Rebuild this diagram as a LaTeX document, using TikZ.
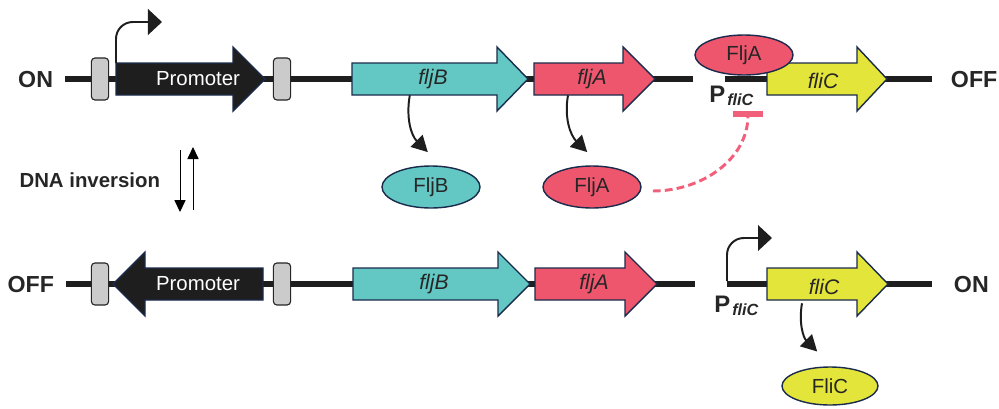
\documentclass[tikz,border=0pt]{standalone}
\usepackage{fontspec}
\setmainfont{Liberation Sans}
\usetikzlibrary{arrows.meta, positioning, shapes.geometric}
\definecolor{flagteal}{HTML}{63C7C4}
\definecolor{flagred}{HTML}{EE566E}
\definecolor{flagyellow}{HTML}{E4E53A}
\definecolor{edgenavy}{HTML}{1A2B4C}
\definecolor{dnablack}{HTML}{1E1E1E}
\definecolor{boxgray}{HTML}{CBCBCB}
\definecolor{repressred}{HTML}{F0607A}

% block arrow for a gene: [style] {start x}{head x}{tip x}{y}
\newcommand{\genearrow}[5][]{%
  \draw[genebody,#1] (#2,#5+16) -- (#3,#5+16) -- (#3,#5+32) -- (#4,#5)
    -- (#3,#5-32) -- (#3,#5-16) -- (#2,#5-16) -- cycle;}

\tikzset{
  genebody/.style={draw=edgenavy, line width=1pt, line join=miter},
  genename/.style={font=\fontsize{15}{17}\selectfont\itshape, text=black!85,
    minimum height=0.8cm, inner sep=0pt},
  protein/.style={ellipse, draw=edgenavy, line width=1pt, inner sep=0pt,
    minimum width=2.45cm, minimum height=1.05cm,
    font=\fontsize{14.5}{17}\selectfont, text=black!85},
  invrepeat/.style={rectangle, rounded corners=2.5pt, fill=boxgray,
    draw=black!85, line width=0.8pt, inner sep=0pt,
    minimum width=0.43cm, minimum height=1.05cm},
  statelabel/.style={font=\fontsize{16.5}{19}\selectfont\bfseries, text=black!85},
}

\begin{document}
\begin{tikzpicture}[x=0.025cm, y=0.025cm,
  dna/.style={line width=4.6pt, draw=dnablack},
  tss/.style={line width=1.4pt, draw=dnablack, rounded corners=0.42cm,
    -{Triangle[length=3.5mm, width=6.4mm]}},
  express/.style={line width=1.4pt, draw=dnablack,
    -{Triangle[length=4mm, width=4.2mm]}},
  flip/.style={line width=0.7pt, -{Triangle[length=3mm, width=2.8mm]}},
  repress/.style={line width=2.1pt, draw=repressred, dash pattern=on 5.5pt off 3pt,
    -{Bar[width=7.3mm, line width=4pt]}},
  pfli/.style={font=\fontsize{17}{19}\selectfont\bfseries, text=black!85,
    inner sep=0pt}]
\useasboundingbox (0,0) rectangle (999,-408);

% ---- upper row: ON ----
\node[statelabel, anchor=east] (on1) at (58,-80) {ON};
\node[statelabel, anchor=west] (off1) at (946,-80) {OFF};
\draw[dna] (65,-79) -- (693,-79) (725,-79) -- (932,-79);
\node[invrepeat] (irL1) at (100,-79) {};
\node[invrepeat] (irR1) at (282,-79) {};
\genearrow[fill=dnablack]{116}{233}{265}{-79}
\genearrow[fill=flagteal]{352}{497}{528}{-79}
\genearrow[fill=flagred]{534}{623}{655}{-79}
\genearrow[fill=flagyellow]{767}{857}{887}{-79}
\node[genename, font=\fontsize{14.5}{17}\selectfont, text=white] (prom1) at (198,-79) {Promoter};
\node[genename] (fljB1) at (433,-79) {fljB};
\node[genename] (fljA1) at (592,-79) {fljA};
\node[genename] (fliC1) at (823,-81) {fliC};
\node[pfli, anchor=base west] (pf1) at (709,-102)
  {P\hspace{1.5pt}\raisebox{-2.8pt}{\fontsize{11.5}{13}\selectfont\itshape fliC}};

\coordinate (tss1) at (116,-63);
\draw[tss] (tss1) |- (162,-22);

\node[protein, fill=flagteal] (FljBp) at (431,-187) {FljB};
\node[protein, fill=flagred] (FljAp) at (592,-187) {FljA};
\draw[express] ([xshift=-0.58cm]fljB1.south) to[out=-100, in=135] ([xshift=-0.08cm, yshift=0.33cm]FljBp.north);
\draw[express] ([xshift=-0.6cm]fljA1.south) to[out=-100, in=135] ([xshift=-0.12cm, yshift=0.33cm]FljAp.north);

\node[protein, fill=flagred, minimum height=1cm] (FljAbound) at (744,-55) {FljA};
\coordinate (repsite) at (748,-111);
\draw[repress] ([xshift=0.28cm, yshift=-0.1cm]FljAp.east) to[out=0, in=-90] (repsite);

% ---- inversion ----
\node[font=\fontsize{14.5}{17}\selectfont\bfseries, text=black!85, anchor=east] (inv) at (165,-180) {DNA inversion};
\coordinate (flipA) at (180,-150);
\coordinate (flipB) at (193,-210);
\draw[flip] (flipA) -- ++(0,-62);
\draw[flip] (flipB) -- ++(0,63);

% ---- lower row: OFF ----
\node[statelabel, anchor=east] (off2) at (59,-285) {OFF};
\node[statelabel, anchor=west] (on2) at (949,-285) {ON};
\draw[dna] (66,-284) -- (695,-284) (727,-284) -- (932,-284);
\node[invrepeat] (irL2) at (100,-284) {};
\node[invrepeat] (irR2) at (282,-284) {};
\genearrow[fill=dnablack]{263}{145}{113}{-284}
\genearrow[fill=flagteal]{353}{498}{530}{-284}
\genearrow[fill=flagred]{535}{625}{657}{-284}
\genearrow[fill=flagyellow]{767}{857}{888}{-284}
\node[genename, font=\fontsize{14.5}{17}\selectfont, text=white] (prom2) at (198,-284) {Promoter};
\node[genename] (fljB2) at (434,-284) {fljB};
\node[genename] (fljA2) at (594,-284) {fljA};
\node[genename] (fliC2) at (824,-287) {fliC};
\node[pfli, anchor=base west] (pf2) at (714,-312)
  {P\hspace{1.5pt}\raisebox{-2.8pt}{\fontsize{11.5}{13}\selectfont\itshape fliC}};

\coordinate (tss2) at (727,-281);
\draw[tss] (tss2) |- (772,-238);

\node[protein, fill=flagyellow, minimum width=2.4cm, minimum height=0.95cm] (FliCp) at (830,-386) {FliC};
\draw[express] ([xshift=-0.55cm]fliC2.south) to[out=-100, in=135] ([xshift=-0.32cm, yshift=0.37cm]FliCp.north);
\end{tikzpicture}
\end{document}
